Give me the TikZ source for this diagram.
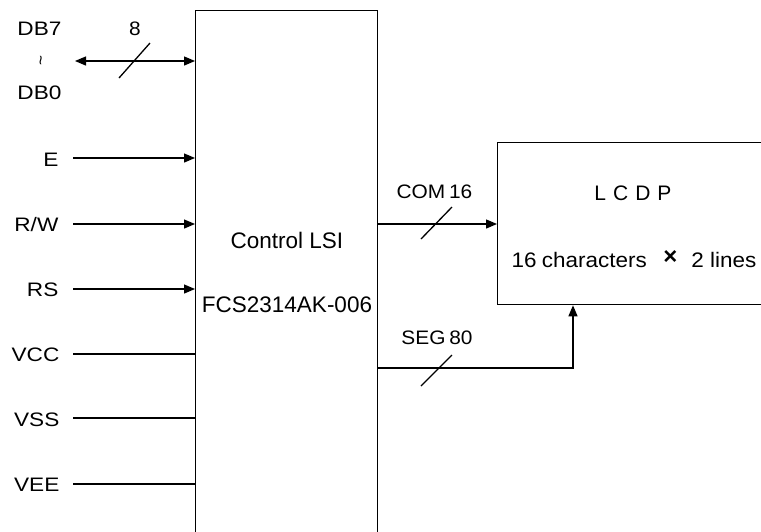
\documentclass[tikz,border=0pt]{standalone}
\usepackage{fontspec}
\setmainfont{Liberation Sans}
\newfontfamily\widefont[FakeStretch=1.16]{Liberation Sans}
\newfontfamily\medfont[FakeStretch=1.07]{Liberation Sans}
\usetikzlibrary{arrows.meta}
\begin{document}
\begin{tikzpicture}[x=1pt,y=-1pt,
  line width=1.3pt,
  arr/.style={-{Triangle[length=11pt,width=9pt]}},
  darr/.style={{Triangle[length=11pt,width=9pt]}-{Triangle[length=11pt,width=9pt]}},
  lbl/.style={inner sep=0pt,font=\widefont\fontsize{19.5}{20}\selectfont},
  sig/.style={inner sep=0pt,font=\medfont\fontsize{19.5}{20}\selectfont},
  big/.style={inner sep=0pt,font=\fontsize{22.5}{23}\selectfont},
  mid/.style={inner sep=0pt,font=\medfont\fontsize{21}{22}\selectfont},
  boxst/.style={draw,inner sep=0pt,anchor=north west}]
\useasboundingbox (0,0) rectangle (761,531);
\clip (0,0) rectangle (761,531);
\fill[white] (0,0) rectangle (761,531);
% main LSI box
\node (lsi) [boxst,minimum width=182pt,minimum height=545pt] at (195,10) {};
\node (t1) [big] at (287,240) {Control LSI};
\node (t2) [big] at (287,304.5) {FCS2314AK-006};
% LCD box
\node (lcd) [boxst,minimum width=300pt,minimum height=162pt] at (497,142) {};
\node (t3) [inner sep=0pt,font=\fontsize{21}{22}\selectfont] at (633,193) {L\,\,C\,\,D\,\,P};
\node (t4) [mid,anchor=west] at (511,260) {16\hspace{-1pt} characters};
\node (t5) [inner sep=0pt,font=\fontsize{24}{24}\selectfont\bfseries] at (670.5,257) {×};
\node (t6) [mid,anchor=east] at (757,260) {2 lines};
% left labels
\node (db7) [lbl] at (39.5,29) {DB7};
\node (tl) [inner sep=0pt] at (43,61) {\rotatebox{90}{\fontsize{17}{17}\selectfont\textasciitilde}};
\node (db0) [lbl] at (39.5,93) {DB0};
\node (n8) [sig] at (135,28.5) {8};
\node (le) [lbl,anchor=east] at (59,160) {E};
\node (lrw) [lbl,anchor=east] at (59,224.5) {R/W};
\node (lrs) [lbl,anchor=east] at (59,290) {RS};
\node (lvcc) [lbl,anchor=east] at (60,355) {VCC};
\node (lvss) [lbl,anchor=east] at (60,420) {VSS};
\node (lvee) [lbl,anchor=east] at (60,485) {VEE};
% line start coordinates
\coordinate (sdb) at (75,61);
\coordinate (se) at (73,158);
\coordinate (srw) at (73,224);
\coordinate (srs) at (73,289);
\coordinate (svcc) at (73,354);
\coordinate (svss) at (73,418);
\coordinate (svee) at (73,484);
\draw[darr] (sdb) -- (sdb -| lsi.west);
\draw (119,78) -- (150,43);
\draw[arr] (se) -- (se -| lsi.west);
\draw[arr] (srw) -- (srw -| lsi.west);
\draw[arr] (srs) -- (srs -| lsi.west);
\draw (svcc) -- (svcc -| lsi.west);
\draw (svss) -- (svss -| lsi.west);
\draw (svee) -- (svee -| lsi.west);
% outputs
\coordinate (com) at (400,224);
\coordinate (seg) at (573,368);
\draw[arr] (com -| lsi.east) -- (com -| lcd.west);
\draw (421,239) -- (452,207);
\node (lcom) [sig] at (434.5,192) {COM\hspace{-2pt} 16};
\draw[arr] (seg -| lsi.east) -| (seg |- lcd.south);
\draw (421,386) -- (452,355);
\node (lseg) [sig] at (437,338) {SEG\hspace{-2pt} 80};
\end{tikzpicture}
\end{document}
